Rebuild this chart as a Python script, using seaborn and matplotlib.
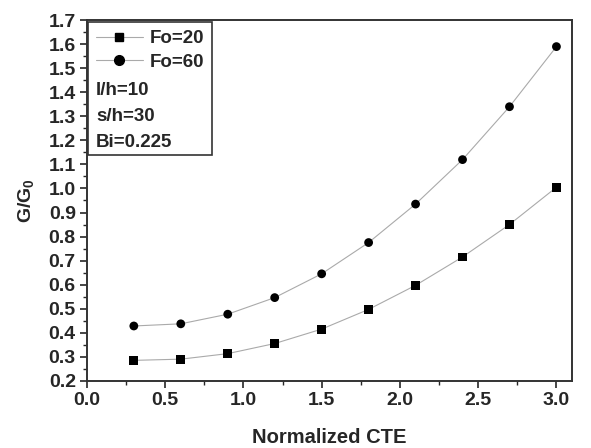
import numpy as np
import pandas as pd
import seaborn as sns
import matplotlib.pyplot as plt
from matplotlib.lines import Line2D
from matplotlib.patches import Rectangle
from matplotlib.ticker import MultipleLocator

# values
cte = [0.3, 0.6, 0.9, 1.2, 1.5, 1.8, 2.1, 2.4, 2.7, 3.0]
g_fo20 = [0.285, 0.290, 0.313, 0.355, 0.415, 0.497, 0.597, 0.715, 0.850, 1.005]
g_fo60 = [0.428, 0.437, 0.477, 0.546, 0.645, 0.775, 0.935, 1.120, 1.340, 1.590]
series = ["Fo=20", "Fo=60"]
notes = ["l/h=10", "s/h=30", "Bi=0.225"]

df = pd.concat([
    pd.DataFrame({"cte": cte, "g": g_fo20, "case": series[0]}),
    pd.DataFrame({"cte": cte, "g": g_fo60, "case": series[1]}),
])

sns.set_style("ticks")
plt.rcParams["font.family"] = ["Liberation Sans", "DejaVu Sans"]
plt.rcParams["font.weight"] = "bold"
plt.rcParams["mathtext.fontset"] = "custom"
plt.rcParams["mathtext.bf"] = "Liberation Sans:bold"
plt.rcParams["mathtext.rm"] = "Liberation Sans"

fig = plt.figure(figsize=(5.91, 4.48), dpi=100)
ax = fig.add_axes([0.147, 0.150, 0.821, 0.805])

# thin grey connecting lines
sns.lineplot(data=df, x="cte", y="g", hue="case", palette=["#aaaaaa", "#aaaaaa"],
             linewidth=0.8, legend=False, ax=ax)
# black markers
sns.scatterplot(data=df, x="cte", y="g", style="case", markers={"Fo=20": "s", "Fo=60": "o"},
                color="black", s=40, edgecolor="black", linewidth=0, legend=False, ax=ax, zorder=3)

ax.set_xlim(0, 3.1)
ax.set_ylim(0.2, 1.7)
ax.xaxis.set_major_locator(MultipleLocator(0.5))
ax.xaxis.set_minor_locator(MultipleLocator(0.25))
ax.yaxis.set_major_locator(MultipleLocator(0.1))
ax.yaxis.set_minor_locator(MultipleLocator(0.05))
ax.tick_params(which="major", direction="out", length=5, width=1.2, labelsize=14, pad=3)
ax.tick_params(which="minor", direction="out", length=3, width=1.0)
for lab in ax.get_xticklabels() + ax.get_yticklabels():
    lab.set_fontweight("bold")
for sp in ax.spines.values():
    sp.set_linewidth(1.4)
    sp.set_color("#333333")

ax.set_xlabel("Normalized CTE", fontsize=14.5, fontweight="bold", labelpad=14)
ax.set_ylabel("G/G$_0$", fontsize=14, fontweight="bold", labelpad=8)

# legend box with the parameter notes
handles = [
    Line2D([], [], color="#aaaaaa", lw=0.8, marker="s", mfc="black", mec="black", ms=6),
    Line2D([], [], color="#aaaaaa", lw=0.8, marker="o", mfc="black", mec="black", ms=7),
]
leg = ax.legend(handles, series, loc="upper left", bbox_to_anchor=(0.003, 0.993),
                frameon=False, prop={"size": 13.5, "weight": "bold"},
                handlelength=2.5, handletextpad=0.35, labelspacing=0.35, borderaxespad=0)
for i, t in enumerate(notes):
    ax.text(0.019, 0.806 - i * 0.072, t, transform=ax.transAxes, fontsize=13.5,
            fontweight="bold", va="center", ha="left")
ax.add_patch(Rectangle((0.003, 0.626), 0.255, 0.368, transform=ax.transAxes,
                       fill=False, edgecolor="#333333", linewidth=1.2, zorder=5))

fig.savefig("out.png", dpi=100)
